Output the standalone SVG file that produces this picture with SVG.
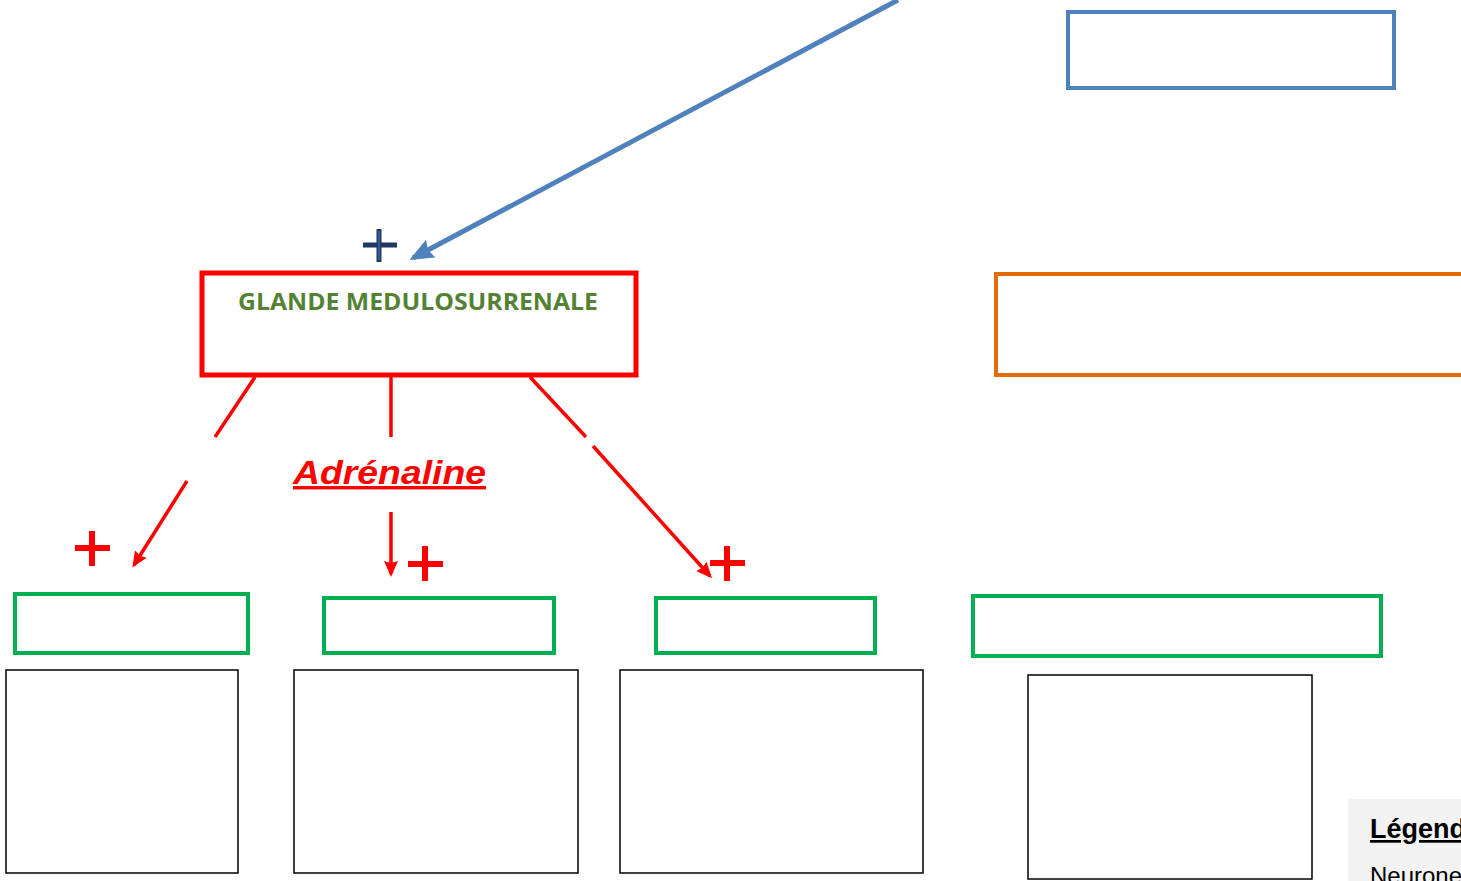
<svg xmlns="http://www.w3.org/2000/svg" width="1461" height="881" viewBox="0 0 1461 881">
<style>
.g{fill:none;stroke:#00b050;stroke-width:4}
.k{fill:none;stroke:#000;stroke-width:1.5}
.r{stroke:#ff0000;stroke-width:3.5;fill:none}
.plus{stroke:#ff0000;stroke-width:6;fill:none}
</style>
<defs>
<marker id="ar" markerWidth="16" markerHeight="14" refX="13" refY="7" orient="auto" markerUnits="userSpaceOnUse"><path d="M0,0 L16,7 L0,14 L2,7 Z" fill="#ff0000"/></marker>
<marker id="ab" markerWidth="24" markerHeight="20" refX="20" refY="10" orient="auto" markerUnits="userSpaceOnUse"><path d="M0,0 L24,10 L0,20 L3,10 Z" fill="#4f81bd"/></marker>
</defs>
<rect width="1461" height="881" fill="#fff"/>
<g id="legende">
<rect x="1348" y="799" width="120" height="90" fill="#f2f2f2"/>
<text x="1370" y="838" font-family="Liberation Sans, Arial, sans-serif" font-weight="bold" font-size="27" text-decoration="underline" fill="#000">Légende</text>
<text x="1370" y="884" font-family="Liberation Sans, Arial, sans-serif" font-size="24" fill="#000">Neurone</text>
</g>
<g id="connectors">
<line x1="898" y1="0" x2="413" y2="258" stroke="#4f81bd" stroke-width="5" marker-end="url(#ab)"/>
<line class="r" x1="255" y1="377" x2="215" y2="437"/>
<line class="r" x1="187" y1="481" x2="134" y2="565" marker-end="url(#ar)"/>
<line class="r" x1="391" y1="377" x2="391" y2="437"/>
<line class="r" x1="391" y1="512" x2="391" y2="574" marker-end="url(#ar)"/>
<line class="r" x1="530" y1="377" x2="586" y2="437"/>
<line class="r" x1="593" y1="446" x2="710" y2="576" marker-end="url(#ar)"/>
</g>
<g id="plus-bleu">
<path d="M363,245 H397 M379,229 V262" stroke="#1f3864" stroke-width="5" fill="none"/>
<path d="M379,231 V260" stroke="#4f81bd" stroke-width="1" fill="none"/>
</g>
<g id="plus-rouges">
<path class="plus" d="M75,548 H110 M92,531 V566"/>
<path class="plus" d="M408,564 H443 M425,546 V581"/>
<path class="plus" d="M710,563 H745 M727,546 V581"/>
</g>
<g id="box-bleu"><rect x="1068" y="12" width="326" height="76" fill="none" stroke="#4f81bd" stroke-width="4"/></g>
<g id="glande">
<rect x="202" y="273" width="434" height="102" fill="none" stroke="#ff0000" stroke-width="5"/>
<text x="418" y="310" text-anchor="middle" font-family="Open Sans, Noto Sans, sans-serif" font-weight="bold" font-size="23" fill="#548235" textLength="360" lengthAdjust="spacingAndGlyphs">GLANDE MEDULOSURRENALE</text>
</g>
<g id="box-orange"><rect x="996" y="274" width="470" height="101" fill="none" stroke="#e36c09" stroke-width="4"/></g>
<g id="adrenaline"><text x="293" y="484" font-family="Liberation Sans, Arial, sans-serif" font-weight="bold" font-style="italic" font-size="34" text-decoration="underline" fill="#ff0000" textLength="193" lengthAdjust="spacingAndGlyphs">Adrénaline</text></g>
<g id="vert1"><rect class="g" x="15" y="594" width="233" height="59"/></g>
<g id="vert2"><rect class="g" x="324" y="598" width="230" height="55"/></g>
<g id="vert3"><rect class="g" x="656" y="598" width="219" height="55"/></g>
<g id="vert4"><rect class="g" x="973" y="596" width="408" height="60"/></g>
<g id="noir1"><rect class="k" x="6" y="670" width="232" height="203"/></g>
<g id="noir2"><rect class="k" x="294" y="670" width="284" height="203"/></g>
<g id="noir3"><rect class="k" x="620" y="670" width="303" height="203"/></g>
<g id="noir4"><rect class="k" x="1028" y="675" width="284" height="204"/></g>
</svg>
